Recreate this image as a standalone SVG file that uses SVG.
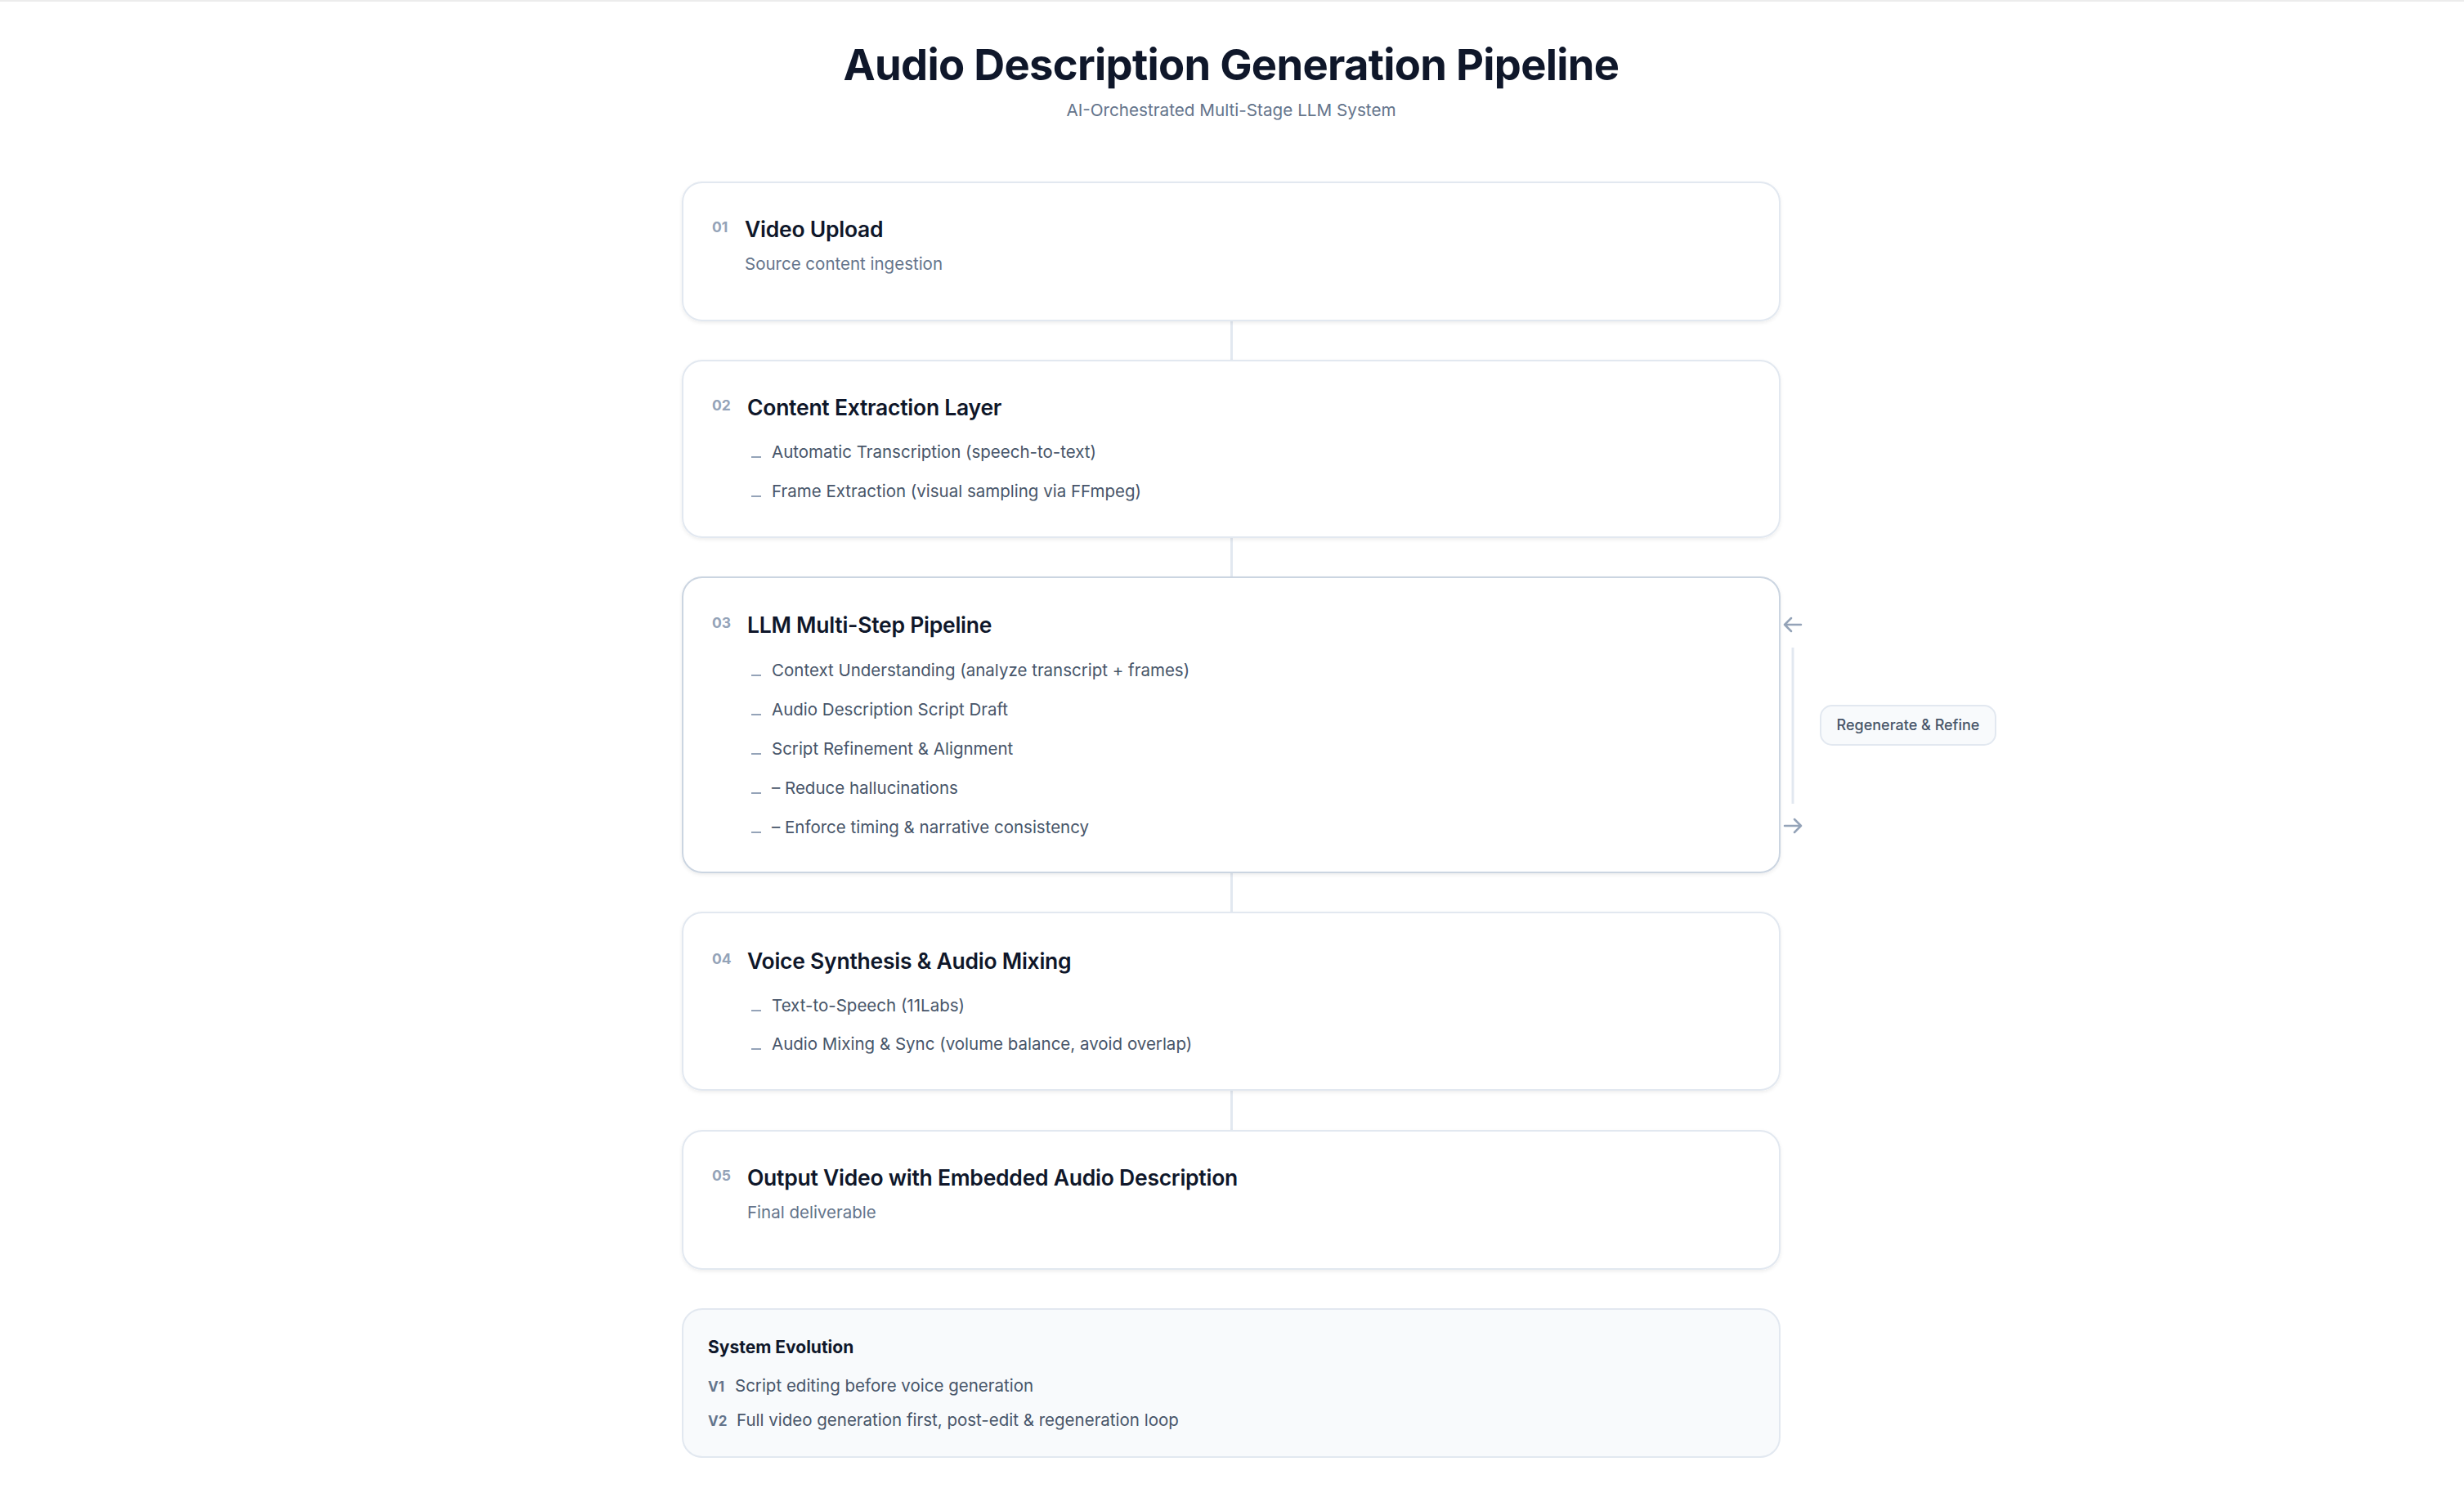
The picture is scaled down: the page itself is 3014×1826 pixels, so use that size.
<svg xmlns="http://www.w3.org/2000/svg" width="3014" height="1826" viewBox="0 0 3014 1826">
<style>
text{font-family:Inter,"Liberation Sans",sans-serif}
.h1{font-size:52.5px;font-weight:700;fill:#0f172a;letter-spacing:-0.7px}
.sub{font-size:20.7px;fill:#64748b}
.card{fill:#ffffff;stroke:#e2e8f0;stroke-width:2}
.card.hl{stroke:#cbd5e1}
.num{font-size:17.5px;font-weight:700;fill:#94a3b8}
.ttl{font-size:26.5px;font-weight:600;fill:#0f172a;letter-spacing:-0.25px}
.desc{font-size:20.5px;fill:#64748b}
.item{font-size:20.5px;fill:#475569}
.mk{fill:#94a3b8}
.conn{stroke:#e2e8f0;stroke-width:3}
.arr{fill:none;stroke:#94a3b8;stroke-width:2.5;stroke-linecap:round;stroke-linejoin:round}
.pill{fill:#f8fafc;stroke:#e2e8f0;stroke-width:2}
.pilltxt{font-size:18px;font-weight:500;fill:#475569}
.evo{fill:#f8fafc;stroke:#e2e8f0;stroke-width:2}
.evoh{font-size:21px;font-weight:700;fill:#0f172a}
.vlab{font-size:17px;font-weight:700;fill:#64748b}
</style>
<defs>
<filter id="sh" x="-5%" y="-10%" width="110%" height="130%">
<feDropShadow dx="0" dy="2" stdDeviation="2" flood-color="#0f172a" flood-opacity="0.07"/>
</filter>
</defs>
<rect x="0" y="0" width="3014" height="1826" fill="#ffffff"/>
<rect x="0" y="0" width="3014" height="2" fill="#ececec"/>

<g id="header">
<text class="h1" x="1506" y="98" text-anchor="middle">Audio Description Generation Pipeline</text>
<text class="sub" x="1506" y="142" text-anchor="middle">AI-Orchestrated Multi-Stage LLM System</text>
</g>

<g id="connectors">
<line class="conn" x1="1506.5" y1="392" x2="1506.5" y2="441"/>
<line class="conn" x1="1506.5" y1="657" x2="1506.5" y2="706"/>
<line class="conn" x1="1506.5" y1="1067" x2="1506.5" y2="1116"/>
<line class="conn" x1="1506.5" y1="1333" x2="1506.5" y2="1383"/>
<line class="conn" x1="2193" y1="792" x2="2193" y2="983"/>
<path class="arr" d="M2203 764H2183M2191 756L2183 764L2191 772"/>
<path class="arr" d="M2183 1010H2203M2195 1002L2203 1010L2195 1018"/>
</g>

<g id="step1">
<rect class="card" x="835" y="223" width="1342" height="169" rx="24" filter="url(#sh)"/>
<text class="num" x="871" y="284">01</text>
<text class="ttl" x="911" y="290">Video Upload</text>
<text class="desc" x="911" y="330">Source content ingestion</text>
</g>

<g id="step2">
<rect class="card" x="835" y="441" width="1342" height="216" rx="24" filter="url(#sh)"/>
<text class="num" x="871" y="502">02</text>
<text class="ttl" x="914" y="508">Content Extraction Layer</text>
<rect class="mk" x="919" y="558" width="12" height="2"/>
<text class="item" x="944" y="560">Automatic Transcription (speech-to-text)</text>
<rect class="mk" x="919" y="606" width="12" height="2"/>
<text class="item" x="944" y="608">Frame Extraction (visual sampling via FFmpeg)</text>
</g>

<g id="step3">
<rect class="card hl" x="835" y="706" width="1342" height="361" rx="24" filter="url(#sh)"/>
<text class="num" x="871" y="768">03</text>
<text class="ttl" x="914" y="774">LLM Multi-Step Pipeline</text>
<rect class="mk" x="919" y="825" width="12" height="2"/>
<text class="item" x="944" y="827">Context Understanding (analyze transcript + frames)</text>
<rect class="mk" x="919" y="873" width="12" height="2"/>
<text class="item" x="944" y="875">Audio Description Script Draft</text>
<rect class="mk" x="919" y="921" width="12" height="2"/>
<text class="item" x="944" y="923">Script Refinement &amp; Alignment</text>
<rect class="mk" x="919" y="969" width="12" height="2"/>
<text class="item" x="944" y="971">– Reduce hallucinations</text>
<rect class="mk" x="919" y="1017" width="12" height="2"/>
<text class="item" x="944" y="1019">– Enforce timing &amp; narrative consistency</text>
</g>

<g id="loop-label">
<rect class="pill" x="2227" y="863" width="214" height="48" rx="14"/>
<text class="pilltxt" x="2334" y="893" text-anchor="middle">Regenerate &amp; Refine</text>
</g>

<g id="step4">
<rect class="card" x="835" y="1116" width="1342" height="217" rx="24" filter="url(#sh)"/>
<text class="num" x="871" y="1179">04</text>
<text class="ttl" x="914" y="1185">Voice Synthesis &amp; Audio Mixing</text>
<rect class="mk" x="919" y="1235" width="12" height="2"/>
<text class="item" x="944" y="1237">Text-to-Speech (11Labs)</text>
<rect class="mk" x="919" y="1282" width="12" height="2"/>
<text class="item" x="944" y="1284">Audio Mixing &amp; Sync (volume balance, avoid overlap)</text>
</g>

<g id="step5">
<rect class="card" x="835" y="1383" width="1342" height="169" rx="24" filter="url(#sh)"/>
<text class="num" x="871" y="1444">05</text>
<text class="ttl" x="914" y="1450">Output Video with Embedded Audio Description</text>
<text class="desc" x="914" y="1490">Final deliverable</text>
</g>

<g id="evolution">
<rect class="evo" x="835" y="1601" width="1342" height="181" rx="24"/>
<text class="evoh" x="866" y="1655">System Evolution</text>
<text class="vlab" x="866" y="1702">V1</text>
<text class="item" x="899" y="1702">Script editing before voice generation</text>
<text class="vlab" x="866" y="1744">V2</text>
<text class="item" x="901" y="1744">Full video generation first, post-edit &amp; regeneration loop</text>
</g>
</svg>
